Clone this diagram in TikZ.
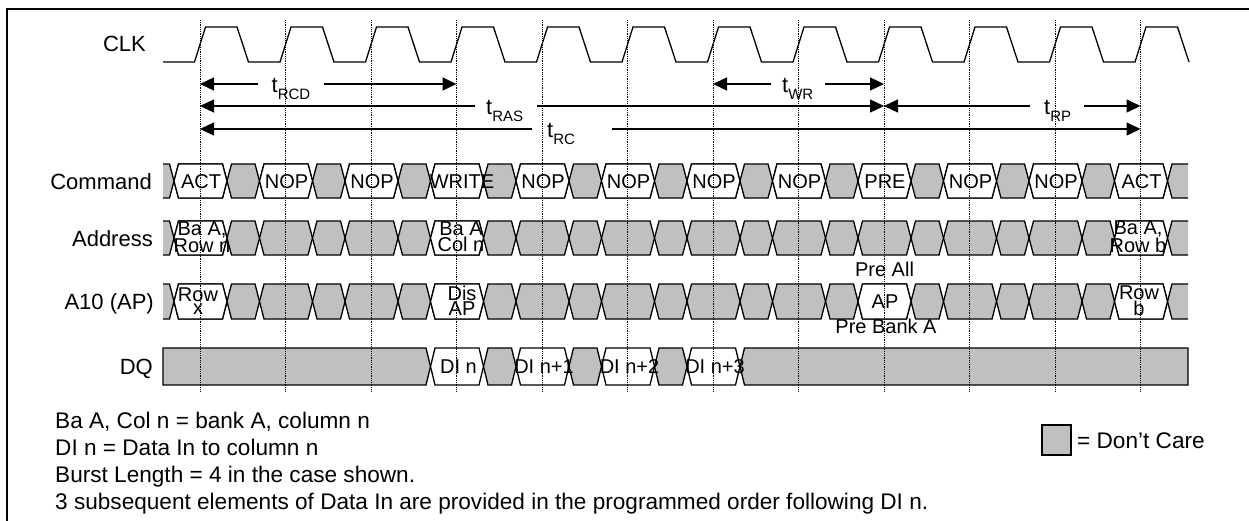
\documentclass[tikz,border=0pt]{standalone}
\usepackage{fontspec}
\setmainfont{Liberation Sans}
\usetikzlibrary{arrows.meta}
\definecolor{dcgrey}{RGB}{192,192,192}
\newcommand\hexa[4]{(#1,{(#3+#4)/2}) -- ({#1+4.5},#3) -- ({#2-4.5},#3) -- (#2,{(#3+#4)/2}) -- ({#2-4.5},#4) -- ({#1+4.5},#4) -- cycle}
\newcommand\tsub[1]{\raisebox{-7.5pt}{\fontsize{15}{15}\selectfont #1}}
\newcommand\busrow[3]{%
  \pgfmathsetmacro\brm{(#1+#2)/2}%
  \fill[dcgrey] (163,#1) -- (169.5,#1) -- (174,\brm) -- (169.5,#2) -- (163,#2) -- cycle;
  \draw[wave] (163,#1) -- (169.5,#1) -- (174,\brm) -- (169.5,#2) -- (163,#2);
  \foreach \k in {0,...,11}{%
    \pgfmathsetmacro\bxa{174+85.5*\k}%
    \pgfmathsetmacro\bxb{\bxa+53}%
    \filldraw[wave,fill=dcgrey] \hexa{\bxa}{\bxb}{#1}{#2};
    \ifnum\k<11
      \pgfmathsetmacro\bxc{\bxa+85.5}%
      \filldraw[wave,fill=dcgrey] \hexa{\bxb}{\bxc}{#1}{#2};
    \fi
  }
  \foreach \k in {#3}{%
    \pgfmathsetmacro\bxa{174+85.5*\k}%
    \pgfmathsetmacro\bxb{\bxa+53}%
    \filldraw[wave,fill=white] \hexa{\bxa}{\bxb}{#1}{#2};
  }
  \fill[dcgrey] (1167.5,\brm) -- (1172,#1) -- (1188,#1) -- (1188,#2) -- (1172,#2) -- cycle;
  \draw[wave] (1188,#1) -- (1172,#1) -- (1167.5,\brm) -- (1172,#2) -- (1188,#2);
}
\begin{document}
\begin{tikzpicture}[x=1pt,y=-1pt,
  wave/.style={line width=1.3pt, line join=miter},
  sig/.style={font=\fontsize{22}{22}\selectfont, anchor=base east, inner sep=0},
  cell/.style={font=\fontsize{20}{13.5}\selectfont, inner sep=0, align=center},
  celltxt/.style={font=\fontsize{20}{20}\selectfont, inner sep=0, anchor=base},
  tlab/.style={font=\fontsize{22}{22}\selectfont, anchor=base west, inner sep=0},
  arr/.style={line width=1.3pt, -{Triangle[length=14pt,width=13pt]}},
  vdot/.style={line width=0.8pt, densely dotted},
  note/.style={font=\fontsize{22.6}{22.6}\selectfont, anchor=base west, inner sep=0}]
\useasboundingbox (0,0) rectangle (1249,520);
\fill[white] (0,0) rectangle (1249,520);
% frame
\draw[line width=1.2pt] (7,530) -- (7,9) -- (1260,9);

% signal names
\node[sig] (lclk) at (146,51.5) {CLK};
\node[sig] (lcmd) at (152,189) {Command};
\node[sig] (ladr) at (153,246) {Address};
\node[sig] (la10) at (154,309.5) {A10 (AP)};
\node[sig] (ldq)  at (153,374.5) {DQ};

% clock
\draw[wave] (163,62) \foreach \k in {0,...,11}{ -- ({200+85.5*\k-5.5},62) -- ({200+85.5*\k+5.5},27) -- ({200+85.5*\k+37},27) -- ({200+85.5*\k+48.5},62)};

% bus rows
\busrow{164}{198}{0,...,11}
\busrow{221}{255}{0,3,11}
\busrow{284}{319}{0,3,8,11}

% DQ row
\filldraw[wave,fill=dcgrey] (163,348) -- (426,348) -- (430.5,366.5) -- (426,385) -- (163,385) -- cycle;
\foreach \k in {3,4,5,6}{%
  \pgfmathsetmacro\bxa{174+85.5*\k}%
  \pgfmathsetmacro\bxb{\bxa+53}%
  \filldraw[wave,fill=white] \hexa{\bxa}{\bxb}{348}{385};
}
\foreach \k in {3,4,5}{%
  \pgfmathsetmacro\bxb{174+85.5*\k+53}%
  \pgfmathsetmacro\bxc{174+85.5*\k+85.5}%
  \filldraw[wave,fill=dcgrey] \hexa{\bxb}{\bxc}{348}{385};
}
\filldraw[wave,fill=dcgrey] (740,366.5) -- (744.5,348) -- (1188,348) -- (1188,385) -- (744.5,385) -- cycle;

% command texts
\node[celltxt] (c0) at (201,188) {ACT};
\node[celltxt] (c1) at (286.5,188) {NOP};
\node[celltxt] (c2) at (372,188) {NOP};
\node[celltxt] (c3) at (462,188) {WRITE};
\node[celltxt] (c4) at (543,188) {NOP};
\node[celltxt] (c5) at (628.5,188) {NOP};
\node[celltxt] (c6) at (714,188) {NOP};
\node[celltxt] (c7) at (799.5,188) {NOP};
\node[celltxt] (c8) at (885,188) {PRE};
\node[celltxt] (c9) at (970.5,188) {NOP};
\node[celltxt] (c10) at (1056,188) {NOP};
\node[celltxt] (c11) at (1141.5,188) {ACT};

% address texts
\node[cell] (a0) at (202,237) {Ba A,\\Row n};
\node[cell] (a3) at (461,237) {Ba A\\Col n};
\node[cell] (a11) at (1138,237) {Ba A,\\Row b};

% A10 texts
\node[cell] (p0) at (198,301) {Row\\x};
\node[cell] (p3) at (462,301) {Dis\\AP};
\node[cell] (p8) at (885,302) {AP};
\node[cell] (p11) at (1139,301) {Row\\b};
\node[cell] (preall) at (884.5,269.5) {Pre All};
\node[cell] (prebank) at (886,326.5) {Pre Bank A};

% DQ texts
\node[celltxt] (d0) at (458.5,373.5) {DI n};
\node[celltxt] (d1) at (544,373.5) {DI n+1};
\node[celltxt] (d2) at (629.5,373.5) {DI n+2};
\node[celltxt] (d3) at (715,373.5) {DI n+3};

% timing arrows
\coordinate (rcdS) at (200,84);   \coordinate (rcdE) at (456.5,84);
\coordinate (rcdL) at (258,84);   \coordinate (rcdR) at (324,84);
\node[tlab] (trcd) at (271.5,92) {t\tsub{RCD}};
\draw[arr] (rcdL) -- (rcdS); \draw[arr] (rcdR) -- (rcdE);

\coordinate (wrS) at (713,84);    \coordinate (wrE) at (884,84);
\coordinate (wrL) at (771,84);    \coordinate (wrR) at (825,84);
\node[tlab] (twr) at (782,92) {t\tsub{WR}};
\draw[arr] (wrL) -- (wrS); \draw[arr] (wrR) -- (wrE);

\coordinate (rasS) at (200,106);  \coordinate (rasE) at (884,106);
\coordinate (rasL) at (475,106);  \coordinate (rasR) at (537,106);
\node[tlab] (tras) at (486,114) {t\tsub{RAS}};
\draw[arr] (rasL) -- (rasS); \draw[arr] (rasR) -- (rasE);

\coordinate (rpS) at (884,106);   \coordinate (rpE) at (1140.5,106);
\coordinate (rpL) at (1030,106);  \coordinate (rpR) at (1084,106);
\node[tlab] (trp) at (1044,114) {t\tsub{RP}};
\draw[arr] (rpL) -- (rpS); \draw[arr] (rpR) -- (rpE);

\coordinate (rcS) at (200,129);   \coordinate (rcE) at (1140.5,129);
\coordinate (rcL) at (532,129);   \coordinate (rcR) at (612,129);
\node[tlab] (trc) at (547,137) {t\tsub{RC}};
\draw[arr] (rcL) -- (rcS); \draw[arr] (rcR) -- (rcE);

% dotted clock reference lines
\foreach \k in {0,...,11}{%
  \draw[vdot] ({200+85.5*\k},20) -- ({200+85.5*\k},392);
}

% notes
\node[note] (n1) at (55,428) {Ba A, Col n = bank A, column n};
\node[note] (n2) at (55,455) {DI n = Data In to column n};
\node[note] (n3) at (55,482) {Burst Length = 4 in the case shown.};
\node[note] (n4) at (55,509) {3 subsequent elements of Data In are provided in the programmed order following DI n.};

% legend
\filldraw[line width=1.3pt, fill=dcgrey] (1042,425) rectangle (1071,455);
\node[note] (leg) at (1077,448) {= Don't Care};
\end{tikzpicture}
\end{document}
